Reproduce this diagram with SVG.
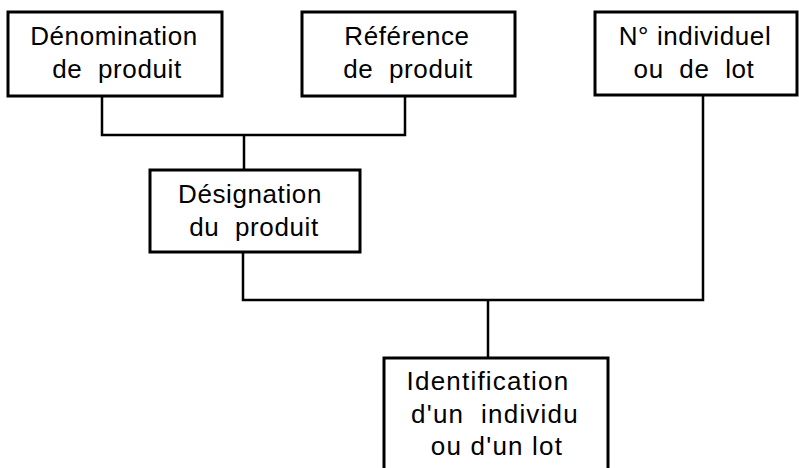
<svg xmlns="http://www.w3.org/2000/svg" width="799" height="468" viewBox="0 0 799 468">
<style>
.box{fill:#fff;stroke:#000;stroke-width:3}
.con{fill:none;stroke:#000;stroke-width:2.5}
text{font-family:"Liberation Sans",Arial,sans-serif;font-size:26px;letter-spacing:0.6px;fill:#000;text-anchor:middle}
.wide{letter-spacing:1.2px}
</style>
<rect width="799" height="468" fill="#fff"/>
<g id="connectors">
<polyline class="con" points="102,96 102,135 405,135 405,96"/>
<line class="con" x1="244" y1="135" x2="244" y2="170"/>
<polyline class="con" points="243,252 243,300 703,300 703,95"/>
<line class="con" x1="488" y1="300" x2="488" y2="358"/>
</g>
<g id="denomination">
<rect class="box" x="8" y="12" width="214" height="84"/>
<text x="114" y="45">Dénomination</text>
<text x="117" y="78" xml:space="preserve">de  produit</text>
</g>
<g id="reference">
<rect class="box" x="302" y="12" width="213" height="84"/>
<text x="407" y="45">Référence</text>
<text x="408" y="78" xml:space="preserve">de  produit</text>
</g>
<g id="numero">
<rect class="box" x="595" y="12" width="202" height="83"/>
<text x="695" y="45">N° individuel</text>
<text x="694" y="78" xml:space="preserve">ou  de  lot</text>
</g>
<g id="designation">
<rect class="box" x="150" y="170" width="210" height="82"/>
<text x="250" y="203">Désignation</text>
<text x="254" y="236" xml:space="preserve">du  produit</text>
</g>
<g id="identification">
<rect class="box" x="384" y="358" width="224" height="115"/>
<text class="wide" x="488" y="390">Identification</text>
<text class="wide" x="495" y="423" xml:space="preserve">d'un  individu</text>
<text class="wide" x="497" y="455">ou d'un lot</text>
</g>
</svg>
